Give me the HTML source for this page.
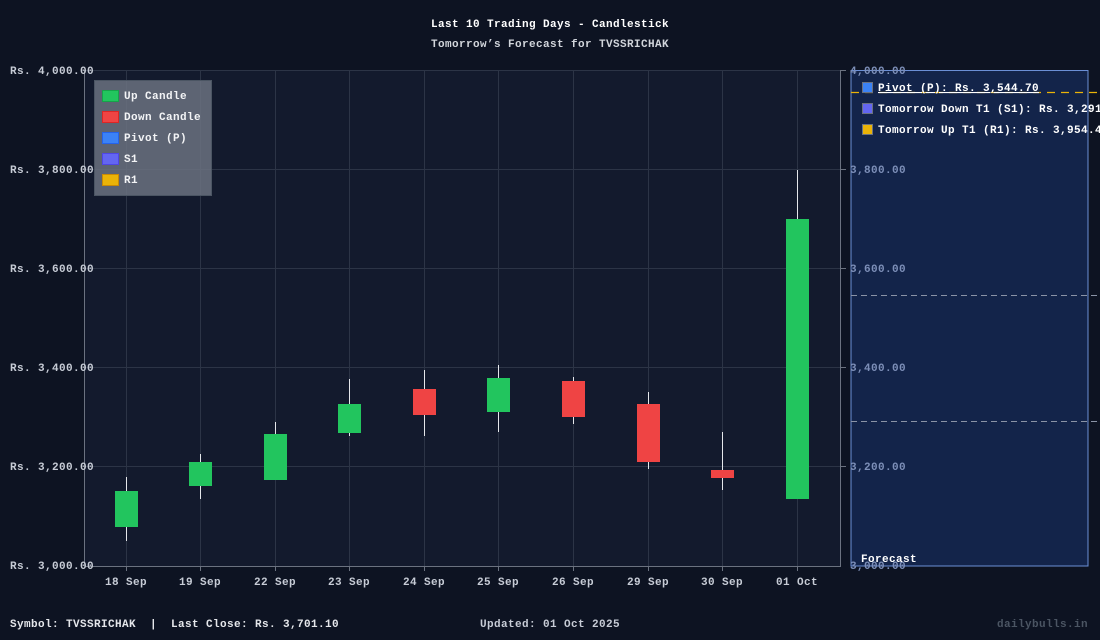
<!DOCTYPE html>
<html><head><meta charset="utf-8"><style>
html,body{margin:0;padding:0;background:#0d1322;overflow:hidden;width:1100px;height:640px;}
svg{display:block;}
svg text{font-family:"Liberation Mono",monospace;font-weight:bold;letter-spacing:0.4px;white-space:pre;}
</style></head><body>
<svg width="1100" height="640" xmlns="http://www.w3.org/2000/svg">
<rect width="1100" height="640" fill="#0d1322"/>
<rect x="85" y="70" width="756" height="496" fill="#131a2d"/>
<g stroke="#2c3446" stroke-width="1">
<line x1="85" y1="70.5" x2="841" y2="70.5"/><line x1="85" y1="169.5" x2="841" y2="169.5"/>
<line x1="85" y1="268.5" x2="841" y2="268.5"/><line x1="85" y1="367.5" x2="841" y2="367.5"/>
<line x1="85" y1="466.5" x2="841" y2="466.5"/>
<line x1="126.5" y1="70" x2="126.5" y2="566"/><line x1="200.5" y1="70" x2="200.5" y2="566"/>
<line x1="275.5" y1="70" x2="275.5" y2="566"/><line x1="349.5" y1="70" x2="349.5" y2="566"/>
<line x1="424.5" y1="70" x2="424.5" y2="566"/><line x1="498.5" y1="70" x2="498.5" y2="566"/>
<line x1="573.5" y1="70" x2="573.5" y2="566"/><line x1="648.5" y1="70" x2="648.5" y2="566"/>
<line x1="722.5" y1="70" x2="722.5" y2="566"/><line x1="797.5" y1="70" x2="797.5" y2="566"/>
</g>
<g stroke="#6b7280"><line x1="84.5" y1="70" x2="84.5" y2="566"/><line x1="85" y1="566.5" x2="841" y2="566.5"/><line x1="840.5" y1="70" x2="840.5" y2="566"/>
<line x1="841" y1="70.5" x2="846" y2="70.5"/><line x1="841" y1="169.5" x2="846" y2="169.5"/><line x1="841" y1="268.5" x2="846" y2="268.5"/><line x1="841" y1="367.5" x2="846" y2="367.5"/><line x1="841" y1="466.5" x2="846" y2="466.5"/>
<line x1="126.5" y1="566" x2="126.5" y2="571"/><line x1="200.5" y1="566" x2="200.5" y2="571"/><line x1="275.5" y1="566" x2="275.5" y2="571"/><line x1="349.5" y1="566" x2="349.5" y2="571"/><line x1="424.5" y1="566" x2="424.5" y2="571"/><line x1="498.5" y1="566" x2="498.5" y2="571"/><line x1="573.5" y1="566" x2="573.5" y2="571"/><line x1="648.5" y1="566" x2="648.5" y2="571"/><line x1="722.5" y1="566" x2="722.5" y2="571"/><line x1="797.5" y1="566" x2="797.5" y2="571"/></g>
<rect x="851" y="70.5" width="237" height="495.5" fill="#13244a" stroke="#6b8fd6" stroke-width="1"/>
<line x1="851" y1="92.5" x2="1100" y2="92.5" stroke="#eab308" stroke-dasharray="8,6" stroke-width="1.2"/>
<line x1="851" y1="295.5" x2="1100" y2="295.5" stroke="#8a93a6" stroke-dasharray="6,4"/>
<line x1="851" y1="421.5" x2="1100" y2="421.5" stroke="#8a93a6" stroke-dasharray="6,4"/>
<g stroke="#e5e7eb" stroke-width="1">
<line x1="126.5" y1="477" x2="126.5" y2="541"/><line x1="200.5" y1="454" x2="200.5" y2="499"/>
<line x1="275.5" y1="422" x2="275.5" y2="480"/><line x1="349.5" y1="379" x2="349.5" y2="436"/>
<line x1="424.5" y1="370" x2="424.5" y2="436"/><line x1="498.5" y1="365" x2="498.5" y2="432"/>
<line x1="573.5" y1="377" x2="573.5" y2="424"/><line x1="648.5" y1="392" x2="648.5" y2="469"/>
<line x1="722.5" y1="432" x2="722.5" y2="490"/><line x1="797.5" y1="170" x2="797.5" y2="499"/>
</g>
<g>
<rect x="115" y="491" width="23" height="36" fill="#22c55e"/>
<rect x="189" y="462" width="23" height="24" fill="#22c55e"/>
<rect x="264" y="434" width="23" height="46" fill="#22c55e"/>
<rect x="338" y="404" width="23" height="29" fill="#22c55e"/>
<rect x="413" y="389" width="23" height="26" fill="#ef4444"/>
<rect x="487" y="378" width="23" height="34" fill="#22c55e"/>
<rect x="562" y="381" width="23" height="36" fill="#ef4444"/>
<rect x="637" y="404" width="23" height="58" fill="#ef4444"/>
<rect x="711" y="470" width="23" height="8" fill="#ef4444"/>
<rect x="786" y="219" width="23" height="280" fill="#22c55e"/>
</g>
<g font-size="11" fill="#c7ccd6">
<text x="10" y="74">Rs. 4,000.00</text><text x="10" y="173">Rs. 3,800.00</text>
<text x="10" y="272">Rs. 3,600.00</text><text x="10" y="371">Rs. 3,400.00</text>
<text x="10" y="470">Rs. 3,200.00</text><text x="10" y="569">Rs. 3,000.00</text>
</g>
<g font-size="11" fill="#7d8fb8">
<text x="850" y="74">4,000.00</text><text x="850" y="173">3,800.00</text>
<text x="850" y="272">3,600.00</text><text x="850" y="371">3,400.00</text>
<text x="850" y="470">3,200.00</text><text x="850" y="569">3,000.00</text>
</g>
<g font-size="11" fill="#c7ccd6" text-anchor="middle">
<text x="126" y="585">18 Sep</text><text x="200" y="585">19 Sep</text><text x="275" y="585">22 Sep</text>
<text x="349" y="585">23 Sep</text><text x="424" y="585">24 Sep</text><text x="498" y="585">25 Sep</text>
<text x="573" y="585">26 Sep</text><text x="648" y="585">29 Sep</text><text x="722" y="585">30 Sep</text>
<text x="797" y="585">01 Oct</text>
</g>
<text x="550" y="27" font-size="11" fill="#ffffff" text-anchor="middle">Last 10 Trading Days - Candlestick</text>
<text x="550" y="47" font-size="11" fill="#d1d5db" text-anchor="middle">Tomorrow’s Forecast for TVSSRICHAK</text>
<rect x="94.5" y="80.5" width="117" height="115" fill="#6b7280" fill-opacity="0.85" stroke="#4b5563"/>
<g font-size="11" fill="#f3f4f6">
<rect x="102.5" y="90.5" width="16" height="11" fill="#22c55e" stroke="#16a34a"/><text x="124" y="99">Up Candle</text>
<rect x="102.5" y="111.5" width="16" height="11" fill="#ef4444" stroke="#dc2626"/><text x="124" y="120">Down Candle</text>
<rect x="102.5" y="132.5" width="16" height="11" fill="#3b82f6" stroke="#2563eb"/><text x="124" y="141">Pivot (P)</text>
<rect x="102.5" y="153.5" width="16" height="11" fill="#6366f1" stroke="#4f46e5"/><text x="124" y="162">S1</text>
<rect x="102.5" y="174.5" width="16" height="11" fill="#eab308" stroke="#ca8a04"/><text x="124" y="183">R1</text>
</g>
<g font-size="11" fill="#ffffff">
<rect x="862.5" y="82.5" width="10" height="10" fill="#3b82f6" stroke="#6b7280"/><text x="878" y="91" text-decoration="underline">Pivot (P): Rs. 3,544.70</text>
<rect x="862.5" y="103.5" width="10" height="10" fill="#6366f1" stroke="#6b7280"/><text x="878" y="112">Tomorrow Down T1 (S1): Rs. 3,291</text>
<rect x="862.5" y="124.5" width="10" height="10" fill="#eab308" stroke="#6b7280"/><text x="878" y="133">Tomorrow Up T1 (R1): Rs. 3,954.4</text>
<text x="861" y="562">Forecast</text>
</g>
<text x="10" y="627" font-size="11" fill="#e5e7eb" xml:space="preserve">Symbol: TVSSRICHAK  |  Last Close: Rs. 3,701.10</text>
<text x="550" y="627" font-size="11" fill="#c7ccd6" text-anchor="middle">Updated: 01 Oct 2025</text>
<text x="1088" y="627" font-size="11" fill="#4b5563" text-anchor="end">dailybulls.in</text>
</svg>
</body></html>
